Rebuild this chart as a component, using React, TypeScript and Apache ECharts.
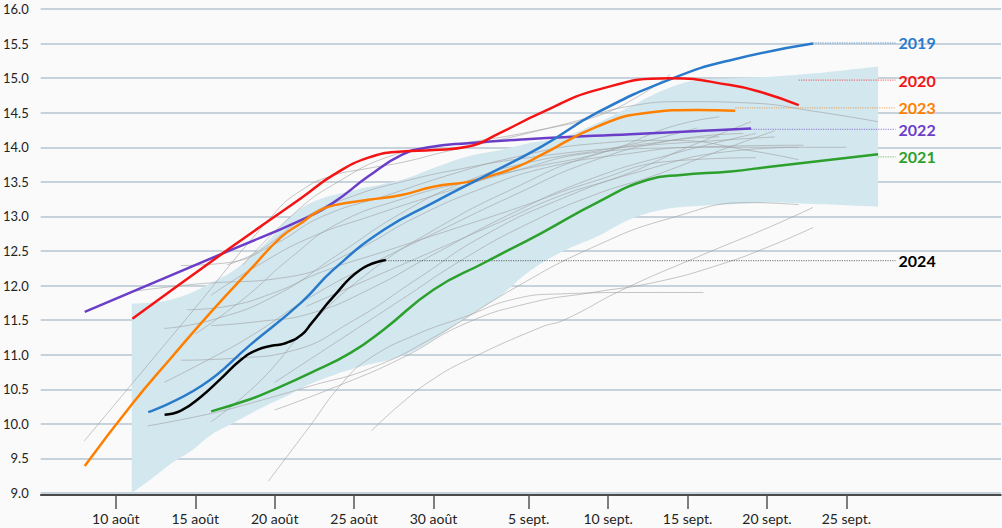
import { useEffect, useRef } from "react";
import * as echarts from "echarts";

// x = day counted from 1 August (10 = 10 août, 36 = 5 sept.)
const tickDays = [10, 15, 20, 25, 30, 36, 41, 46, 51, 56];
const tickLabels = ["10 août", "15 août", "20 août", "25 août", "30 août", "5 sept.", "10 sept.", "15 sept.", "20 sept.", "25 sept."];

const bandDays = [11, 12.5, 13.5, 14.8, 16, 17.3, 18.5, 19.8, 21, 22.5, 25, 28, 30, 32.2, 34.2, 36, 38.2, 40.3, 42.4, 44.5, 46.6, 49, 51.2, 54, 58];
const bandLow = [9.0, 9.25, 9.43, 9.62, 9.84, 10.0, 10.15, 10.3, 10.43, 10.6, 10.8, 10.98, 11.22, 11.56, 11.85, 12.2, 12.5, 12.71, 12.96, 13.1, 13.15, 13.18, 13.2, 13.18, 13.14];
const bandHigh = [11.74, 11.76, 11.8, 11.9, 12.04, 12.2, 12.42, 12.7, 13.0, 13.22, 13.38, 13.53, 13.7, 13.87, 13.96, 14.06, 14.15, 14.35, 14.59, 14.83, 14.97, 15.0, 15.02, 15.07, 15.17];

const y2019 = [[12.04, 10.17], [15.4, 10.55], [18.5, 11.15], [21.7, 11.76], [23.7, 12.23], [26.9, 12.81], [30.0, 13.2], [33.2, 13.58], [36.8, 14.01], [40.3, 14.5], [45.1, 15.0], [48.7, 15.26], [53.9, 15.5]];
const y2020 = [[11.04, 11.52], [17.3, 12.56], [21.7, 13.27], [23.7, 13.6], [25.9, 13.85], [28, 13.94], [30, 13.96], [32.2, 14.01], [34.2, 14.21], [36.8, 14.5], [40.3, 14.83], [44.9, 15.0], [48.7, 14.9], [50.6, 14.8], [53, 14.61]];
const y2021 = [[16.0, 10.18], [18.5, 10.36], [19.8, 10.48], [22.3, 10.74], [24.8, 11.03], [26.9, 11.37], [30.0, 11.94], [33.2, 12.33], [36.8, 12.76], [40.3, 13.2], [43.5, 13.53], [45.6, 13.6], [48.7, 13.65], [51.2, 13.72], [58.0, 13.9]];
const y2022 = [[8.04, 11.62], [17.3, 12.52], [21.7, 12.95], [23.7, 13.2], [25.9, 13.58], [28.0, 13.89], [29.7, 14.0], [32.2, 14.06], [36.1, 14.12], [42.4, 14.19], [50.0, 14.27]];
const y2023 = [[8.04, 9.39], [11.0, 10.28], [13.5, 10.96], [16.0, 11.62], [18.5, 12.24], [20.4, 12.7], [21.7, 12.91], [22.7, 13.07], [23.7, 13.16], [25.9, 13.24], [28, 13.31], [30, 13.43], [32.2, 13.5], [33.2, 13.56], [35.3, 13.72], [36.8, 13.89], [40.3, 14.3], [43.5, 14.5], [46.6, 14.54], [49, 14.53]];
const y2024 = [[13.07, 10.13], [14.1, 10.19], [15.4, 10.4], [16.6, 10.65], [17.9, 10.93], [18.9, 11.07], [19.8, 11.13], [20.6, 11.16], [21.7, 11.29], [22.3, 11.45], [23.7, 11.84], [25.4, 12.23], [27.0, 12.37]];

// earlier years (grey)
const gA = [[8, 9.75], [14, 11.4], [20, 13.05], [21.7, 13.38], [23.5, 13.58], [26, 13.7], [28, 13.78], [31, 13.95], [34, 14.1], [36.8, 14.25], [40.3, 14.45], [43, 14.75], [44.9, 15.05]];
const gB = [[18, 12.3], [21.5, 13.1], [24, 13.5], [27, 13.85], [30, 14.0], [33, 14.1], [36, 14.22], [39, 14.38], [42, 14.58], [46, 14.66], [50, 14.64], [54, 14.52], [58, 14.37]];
const gC = [[13.05, 10.6], [16, 10.95], [18.5, 11.27], [22.3, 11.84], [26, 12.3], [30, 12.75], [35, 13.3], [40, 13.8], [45, 14.1], [49.5, 14.2]];
const gD = [[13.05, 11.38], [16, 11.5], [20, 11.85], [24, 12.45], [28, 13.05], [32, 13.5], [36, 13.78], [42, 14.02], [46.6, 14.28]];
const gE = [[16, 11.86], [19, 12.3], [22.3, 12.7], [26, 13.0], [30, 13.3], [35, 13.65], [40, 13.92], [46, 14.0], [53.3, 14.03]];
const gF = [[16, 11.42], [19, 11.48], [22.3, 11.6], [26, 11.95], [30, 12.45], [35, 13.05], [40, 13.55], [45, 13.9], [50.3, 14.2]];
const gG = [[12, 9.97], [16, 10.15], [18.5, 10.3], [22.3, 10.55], [26, 10.8], [30, 11.25], [35, 11.95], [40, 12.55], [45, 12.98], [50, 13.2], [53, 13.17]];
const gH = [[16, 10.03], [19, 10.6], [22.3, 11.45], [26, 12.2], [30, 12.8], [35, 13.4], [40, 13.88], [45, 14.1], [48, 14.15]];
const gI = [[14.1, 10.92], [17.5, 10.95], [21, 11.05], [25, 11.5], [29, 12.1], [33, 12.7], [38, 13.25], [43, 13.65], [49, 13.95], [53, 14.0]];
const gJ = [[19.6, 9.17], [22, 9.9], [24.3, 10.6], [26, 10.95], [29, 11.3], [32, 11.55], [35, 11.8], [38, 11.88], [43, 11.9], [47, 11.9]];
const gK = [[26.1, 9.9], [28, 10.3], [30, 10.65], [32.2, 10.93], [36.8, 11.4], [38.2, 11.5], [42, 11.95], [47, 12.45], [51.2, 12.85], [53.9, 13.13]];
const gL = [[20, 10.2], [24, 10.55], [28, 10.95], [32, 11.45], [36.1, 11.75], [40, 11.9], [44, 12.05], [48, 12.3], [51.2, 12.57], [53.9, 12.84]];
const gM = [[15, 11.3], [18, 11.8], [21, 12.4], [24, 12.9], [28, 13.25], [32, 13.5], [36, 13.7], [41, 13.95], [45, 14.3], [48, 14.44]];
const gN = [[17, 12.3], [19, 12.5], [22, 13.0], [25, 13.3], [28, 13.5], [32, 13.7], [36, 13.85], [42, 14.0], [48, 14.1], [51.5, 14.15]];
const gO = [[22, 11.7], [26, 12.1], [30, 12.5], [34, 12.9], [38, 13.3], [42, 13.6], [46, 14.0], [50, 14.37]];
const gP = [[14.1, 12.29], [17, 12.33], [20, 12.6], [23, 13.0], [27, 13.3], [31, 13.6], [35, 13.85], [40, 14.05], [45, 14.1], [50, 13.95], [53, 13.82]];
const gQ = [[11.2, 11.92], [15, 12.02], [21, 12.13], [25, 12.5], [29, 13.0], [33, 13.4], [37, 13.7], [42, 13.9], [47, 14.0], [56, 14.0]];
const gR = [[14.5, 11.65], [17, 11.7], [20, 11.9], [23, 12.2], [27, 12.5], [31, 12.8], [35, 13.1], [40, 13.5], [45, 13.8], [50.3, 13.85]];
const gS = [[20, 10.6], [24, 11.2], [28, 11.8], [32, 12.4], [36, 12.9], [40, 13.3], [44, 13.6], [48, 13.95], [51.5, 14.24]];
const greyYears = [gA, gB, gC, gD, gE, gF, gG, gH, gI, gJ, gK, gL, gM, gN, gO, gP, gQ, gR, gS];

const labelDay = 59.1;
const highlights = [
  { name: "2021", data: y2021, color: "#2ca02c", labelY: 13.86 },
  { name: "2022", data: y2022, color: "#6b3ec9", labelY: 14.26 },
  { name: "2023", data: y2023, color: "#ff8000", labelY: 14.57 },
  { name: "2019", data: y2019, color: "#2a7acb", labelY: 15.51 },
  { name: "2020", data: y2020, color: "#f51414", labelY: 14.97 },
  { name: "2024", data: y2024, color: "#000000", labelY: 12.36 },
];

const FONT = "Lato, 'Noto Sans', sans-serif";

export default function App() {
  const ref = useRef<HTMLDivElement>(null);
  useEffect(() => {
    if (!ref.current) return;
    const chart = echarts.init(ref.current, undefined, { renderer: "svg" });
    const series: any[] = [];
    // band: value first in each row so the stack is done on the value dimension
    series.push({
      type: "line",
      data: bandDays.map((d, i) => [bandLow[i], d]),
      encode: { x: 1, y: 0 },
      stack: "band",
      symbol: "none",
      smooth: 0.4,
      lineStyle: { opacity: 0 },
      silent: true,
      z: 1,
    });
    series.push({
      type: "line",
      data: bandDays.map((d, i) => [bandHigh[i] - bandLow[i], d]),
      encode: { x: 1, y: 0 },
      stack: "band",
      symbol: "none",
      smooth: 0.4,
      lineStyle: { opacity: 0 },
      areaStyle: { color: "#d3e7ef", opacity: 1 },
      silent: true,
      z: 1,
    });
    greyYears.forEach((g) => {
      series.push({
        type: "line",
        data: g,
        symbol: "none",
        smooth: 0.5,
        lineStyle: { color: "rgba(160,160,160,0.6)", width: 1 },
        silent: true,
        z: 2,
      });
    });
    highlights.forEach((h) => {
      const last = h.data[h.data.length - 1];
      series.push({
        type: "line",
        data: [[last[0], h.labelY], [labelDay, h.labelY]],
        symbol: "none",
        lineStyle: { color: h.color, width: 1.2, type: "dotted", opacity: h.name === "2024" ? 0.45 : 0.55 },
        endLabel: {
          show: true,
          formatter: h.name,
          color: h.color,
          fontFamily: FONT,
          fontWeight: "bold",
          fontSize: 16,
          distance: 3,
        },
        silent: true,
        z: 3,
      });
      series.push({
        type: "line",
        name: h.name,
        data: h.data,
        symbol: "none",
        smooth: 0.5,
        lineStyle: { color: h.color, width: 2.5 },
        silent: true,
        z: 4,
      });
    });

    chart.setOption({
      animation: false,
      backgroundColor: "#fafafa",
      grid: { left: 39, right: 1, top: 9, bottom: 35 },
      xAxis: {
        type: "value",
        min: 5.266,
        max: 65.74,
        offset: 2,
        splitLine: { show: false },
        axisLine: { show: true, lineStyle: { color: "#111", width: 1.5 } },
        axisTick: { show: true, customValues: tickDays, length: 14, lineStyle: { color: "#555", width: 1.5 } },
        axisLabel: {
          customValues: tickDays,
          formatter: (v: number) => tickLabels[tickDays.indexOf(Math.round(v))] ?? "",
          fontFamily: FONT,
          fontSize: 14,
          color: "#222",
          margin: 16,
        },
      },
      yAxis: {
        type: "value",
        min: 9,
        max: 16,
        interval: 0.5,
        axisLine: { show: false },
        axisTick: { show: false },
        splitLine: { show: true, lineStyle: { color: "#b6c6d2", width: 1.5 } },
        axisLabel: {
          formatter: (v: number) => v.toFixed(1),
          fontFamily: FONT,
          fontSize: 13,
          color: "#222",
          margin: 12,
        },
      },
      series,
    });
    return () => chart.dispose();
  }, []);
  return (
    <div
      ref={ref}
      style={{ position: "fixed", left: 0, top: 0, width: 1002, height: 528, background: "#fafafa" }}
    />
  );
}
